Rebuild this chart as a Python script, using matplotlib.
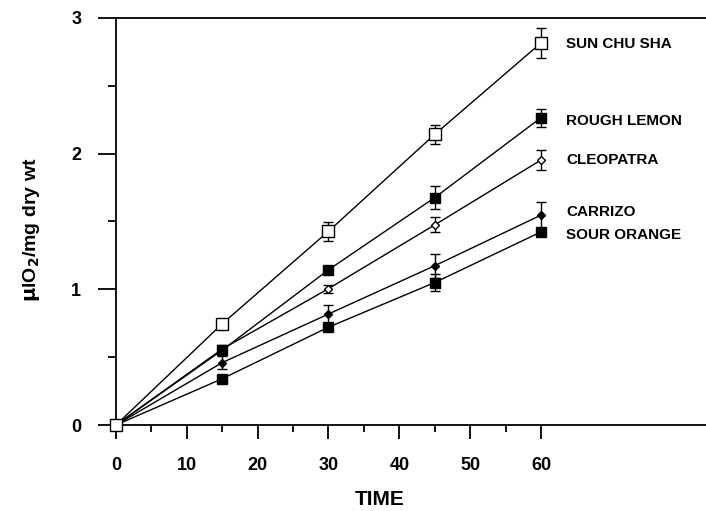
import numpy as np
import matplotlib.pyplot as plt

plt.rcParams['font.family'] = ['Liberation Sans', 'DejaVu Sans']
plt.rcParams['font.weight'] = 'bold'

# time in minutes
time = [0, 15, 30, 45, 60]

# uptake, ul O2 / mg dry wt, and error bars
sun_chu_sha = [0, 0.746, 1.428, 2.142, 2.816]
sun_chu_sha_err = [0, 0.02, 0.07, 0.07, 0.11]
rough_lemon = [0, 0.552, 1.144, 1.676, 2.265]
rough_lemon_err = [0, 0.02, 0.02, 0.085, 0.065]
cleopatra = [0, 0.56, 1.005, 1.475, 1.953]
cleopatra_err = [0, 0.03, 0.03, 0.055, 0.077]
carrizo = [0, 0.46, 0.818, 1.174, 1.547]
carrizo_err = [0, 0.045, 0.065, 0.09, 0.095]
sour_orange = [0, 0.341, 0.721, 1.05, 1.423]
sour_orange_err = [0, 0.02, 0.02, 0.06, 0.03]

labels = ['SUN CHU SHA', 'ROUGH LEMON', 'CLEOPATRA', 'CARRIZO', 'SOUR ORANGE']
label_y = [2.81, 2.24, 1.95, 1.57, 1.40]

fig = plt.figure(figsize=(7.06, 5.11), dpi=100)
ax = fig.add_axes([116 / 706, 86 / 511, 590 / 706, 407 / 511])

series = [
    (sour_orange, sour_orange_err, 's', 'black', 7.5),
    (carrizo, carrizo_err, 'D', 'black', 4),
    (cleopatra, cleopatra_err, 'D', 'white', 4.5),
    (rough_lemon, rough_lemon_err, 's', 'black', 7.5),
    (sun_chu_sha, sun_chu_sha_err, 's', 'white', 8.5),
]
for vals, err, mk, fc, ms in series:
    ax.errorbar(time, vals, yerr=err, color='black', lw=1, marker=mk,
                mfc=fc, mec='black', mew=1, ms=ms, capsize=3.5, capthick=1,
                elinewidth=1, clip_on=False, zorder=3)

for lab, ly in zip(labels, label_y):
    ax.text(63.6, ly, lab, fontsize=11, fontweight='bold', va='center', ha='left')

ax.set_xlim(0, 83.3)
ax.set_ylim(0, 3)
ax.spines['right'].set_visible(False)
for s in ['left', 'bottom', 'top']:
    ax.spines[s].set_linewidth(1.3)

ax.set_xticks(np.arange(0, 61, 10))
ax.set_xticks(np.arange(5, 60, 10), minor=True)
ax.set_yticks([0, 1, 2, 3])
ax.set_yticks([0.5, 1.5, 2.5], minor=True)
ax.tick_params(axis='x', which='major', direction='out', length=10, width=1.3,
               pad=13, labelsize=13)
ax.tick_params(axis='x', which='minor', direction='out', length=5, width=1.3)
ax.tick_params(axis='y', which='major', direction='out', length=13, width=1.3,
               pad=12, labelsize=13)
ax.tick_params(axis='y', which='minor', direction='out', length=5.5, width=1.3)
for t in ax.get_xticklabels() + ax.get_yticklabels():
    t.set_fontweight('bold')

ax.set_xlabel('TIME', fontsize=15, fontweight='bold')
ax.xaxis.set_label_coords((380 - 116) / 590, -(490 - 425) / 407)
ax.set_ylabel(r'$\mathbf{\mu}$lO$_\mathbf{2}$/mg dry wt', fontsize=14, fontweight='bold')
ax.yaxis.set_label_coords(-(116 - 42) / 590, (425 - 230) / 407)

fig.savefig('out.png', dpi=100)
